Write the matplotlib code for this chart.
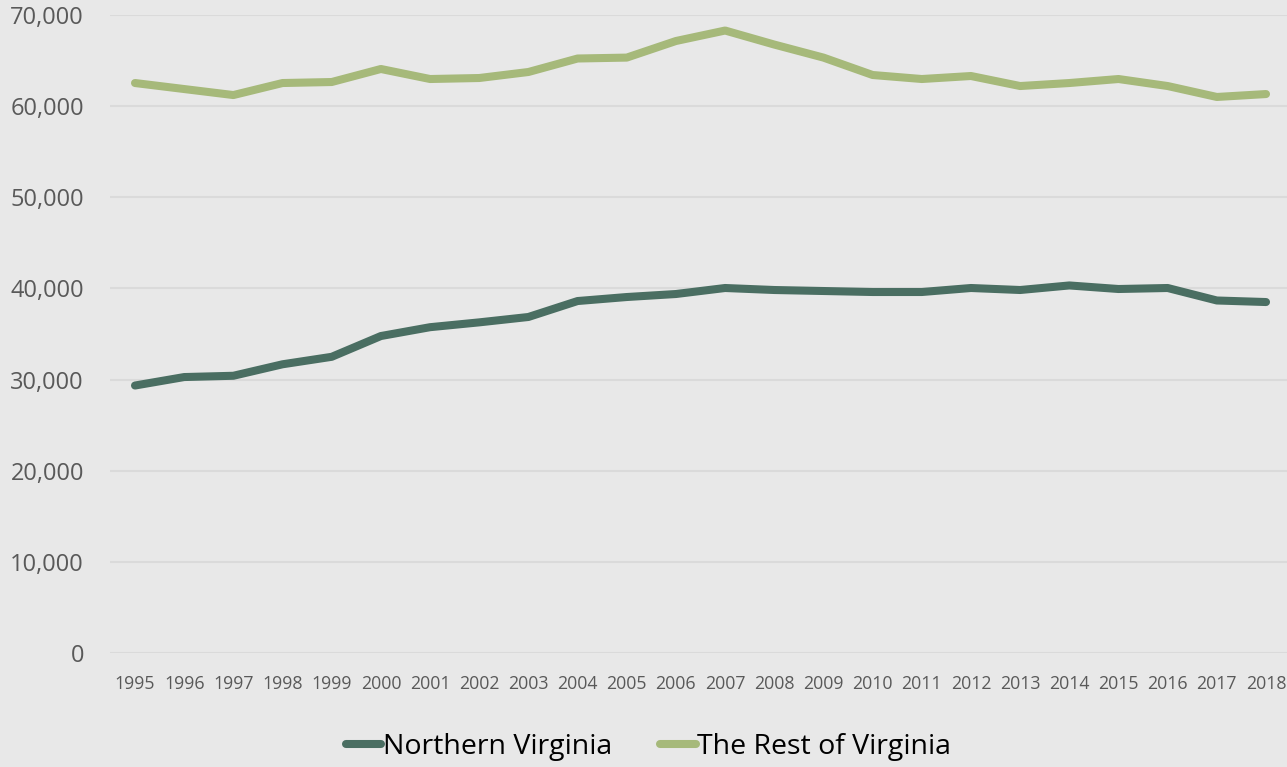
import matplotlib
matplotlib.use("Agg")
import matplotlib.pyplot as plt

years = list(range(1995, 2019))
northern_va = [29350, 30280, 30420, 31680, 32500, 34780, 35750, 36280, 36870, 38620,
               39060, 39390, 40050, 39830, 39720, 39610, 39610, 40050, 39830, 40330,
               39940, 40050, 38680, 38510]
rest_of_va = [62540, 61880, 61220, 62540, 62650, 64080, 62980, 63090, 63750, 65230,
              65330, 67150, 68300, 66760, 65330, 63420, 62980, 63310, 62210, 62540,
              62980, 62210, 61010, 61330]
y_ticks = [0, 10000, 20000, 30000, 40000, 50000, 60000, 70000]

plt.rcParams['font.family'] = ['Open Sans', 'DejaVu Sans']

bg = '#E8E8E8'
fig = plt.figure(figsize=(12.87, 7.67), dpi=100, facecolor=bg)
ax = fig.add_axes([0.0858, 0.1486, 0.917, 0.8318])
ax.set_facecolor(bg)

x = list(range(len(years)))
ax.plot(x, northern_va, color='#4A6E62', lw=5.8, solid_capstyle='round',
        solid_joinstyle='round', label='Northern Virginia')
ax.plot(x, rest_of_va, color='#A6B97A', lw=5.8, solid_capstyle='round',
        solid_joinstyle='round', label='The Rest of Virginia')

ax.set_xlim(-0.5, len(years) - 0.5)
ax.set_ylim(0, 70000)
ax.set_yticks(y_ticks)
ax.set_yticklabels([f'{v:,}' for v in y_ticks])
ax.set_xticks(x)
ax.set_xticklabels([str(y) for y in years])

ax.grid(axis='y', color='#DADADA', lw=1.5)
ax.set_axisbelow(True)
for s in ax.spines.values():
    s.set_visible(False)
ax.tick_params(axis='y', length=0, pad=19, labelsize=17, labelcolor='#595959')
ax.tick_params(axis='x', length=0, pad=16, labelsize=12.8, labelcolor='#595959')

fig.legend(loc='center', bbox_to_anchor=(0.504, 0.026), ncol=2, frameon=False,
           fontsize=20.5, handlelength=1.25, handletextpad=0.05, columnspacing=1.7)

fig.savefig('out.png', dpi=100, facecolor=bg)
